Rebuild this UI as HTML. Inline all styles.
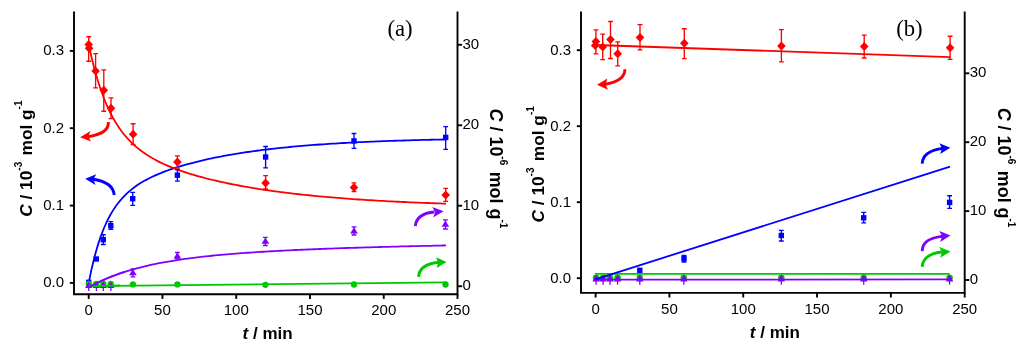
<!DOCTYPE html><html><head><meta charset="utf-8"><style>html,body{margin:0;padding:0;background:#fff;width:1024px;height:344px;overflow:hidden}svg{display:block;will-change:transform}</style></head><body><svg xmlns="http://www.w3.org/2000/svg" width="1024" height="344" viewBox="0 0 1024 344">
<style>.tk{font-family:"Liberation Sans",sans-serif;font-size:15px;fill:#000}.lab{font-family:"Liberation Sans",sans-serif;font-size:17.3px;font-weight:bold;fill:#000}.sup{font-size:10px}.rl{font-size:17.9px}.xl{font-family:"Liberation Sans",sans-serif;font-size:17px;font-weight:bold;fill:#000}.pl{font-family:"Liberation Serif",serif;font-size:22.7px;fill:#000}</style>
<rect width="1024" height="344" fill="#fff"/>
<path d="M74,12.4 V294.3 H457.5 V12.4" fill="none" stroke="#000" stroke-width="1.9" stroke-linecap="square"/>
<line x1="69.8" y1="282.9" x2="74" y2="282.9" stroke="#000" stroke-width="1.9"/>
<line x1="69.8" y1="205.6" x2="74" y2="205.6" stroke="#000" stroke-width="1.9"/>
<line x1="69.8" y1="128.2" x2="74" y2="128.2" stroke="#000" stroke-width="1.9"/>
<line x1="69.8" y1="50.9" x2="74" y2="50.9" stroke="#000" stroke-width="1.9"/>
<line x1="457.5" y1="286.2" x2="462.1" y2="286.2" stroke="#000" stroke-width="1.9"/>
<line x1="457.5" y1="205.7" x2="462.1" y2="205.7" stroke="#000" stroke-width="1.9"/>
<line x1="457.5" y1="125.3" x2="462.1" y2="125.3" stroke="#000" stroke-width="1.9"/>
<line x1="457.5" y1="44.8" x2="462.1" y2="44.8" stroke="#000" stroke-width="1.9"/>
<line x1="88.7" y1="294.3" x2="88.7" y2="298.90000000000003" stroke="#000" stroke-width="1.9"/>
<line x1="162.46" y1="294.3" x2="162.46" y2="298.90000000000003" stroke="#000" stroke-width="1.9"/>
<line x1="236.22000000000003" y1="294.3" x2="236.22000000000003" y2="298.90000000000003" stroke="#000" stroke-width="1.9"/>
<line x1="309.98" y1="294.3" x2="309.98" y2="298.90000000000003" stroke="#000" stroke-width="1.9"/>
<line x1="383.74" y1="294.3" x2="383.74" y2="298.90000000000003" stroke="#000" stroke-width="1.9"/>
<line x1="457.5" y1="294.3" x2="457.5" y2="298.90000000000003" stroke="#000" stroke-width="1.9"/>
<text x="64" y="287.29999999999995" text-anchor="end" class="tk">0.0</text>
<text x="64" y="210.0" text-anchor="end" class="tk">0.1</text>
<text x="64" y="132.6" text-anchor="end" class="tk">0.2</text>
<text x="64" y="55.3" text-anchor="end" class="tk">0.3</text>
<text x="462.5" y="290.09999999999997" class="tk">0</text>
<text x="462.5" y="209.6" class="tk">10</text>
<text x="462.5" y="129.2" class="tk">20</text>
<text x="462.5" y="48.699999999999996" class="tk">30</text>
<text x="88.7" y="315.3" text-anchor="middle" class="tk">0</text>
<text x="162.46" y="315.3" text-anchor="middle" class="tk">50</text>
<text x="236.22000000000003" y="315.3" text-anchor="middle" class="tk">100</text>
<text x="309.98" y="315.3" text-anchor="middle" class="tk">150</text>
<text x="383.74" y="315.3" text-anchor="middle" class="tk">200</text>
<text x="457.5" y="315.3" text-anchor="middle" class="tk">250</text>
<path d="M88.7,286.2 L446,282.3" stroke="#00c800" stroke-width="1.8" fill="none"/>
<path d="M88.70,287.34 L91.70,285.69 L94.71,284.12 L97.71,282.62 L100.71,281.19 L103.71,279.83 L106.72,278.53 L109.72,277.29 L112.72,276.10 L115.72,274.97 L118.73,273.89 L121.73,272.86 L124.73,271.87 L127.73,270.93 L130.74,270.03 L133.74,269.17 L136.74,268.35 L139.74,267.56 L142.75,266.80 L145.75,266.08 L148.75,265.38 L151.75,264.72 L154.76,264.08 L157.76,263.47 L160.76,262.89 L163.76,262.33 L166.77,261.79 L169.77,261.27 L172.77,260.77 L175.77,260.29 L178.78,259.83 L181.78,259.39 L184.78,258.96 L187.78,258.55 L190.79,258.15 L193.79,257.77 L196.79,257.41 L199.79,257.05 L202.80,256.71 L205.80,256.38 L208.80,256.06 L211.80,255.75 L214.81,255.45 L217.81,255.17 L220.81,254.89 L223.81,254.62 L226.82,254.36 L229.82,254.10 L232.82,253.86 L235.82,253.62 L238.83,253.39 L241.83,253.16 L244.83,252.95 L247.83,252.73 L250.84,252.53 L253.84,252.33 L256.84,252.13 L259.84,251.95 L262.85,251.76 L265.85,251.58 L268.85,251.41 L271.85,251.24 L274.86,251.07 L277.86,250.91 L280.86,250.75 L283.86,250.60 L286.87,250.45 L289.87,250.30 L292.87,250.15 L295.87,250.01 L298.88,249.88 L301.88,249.74 L304.88,249.61 L307.88,249.48 L310.89,249.35 L313.89,249.23 L316.89,249.11 L319.89,248.99 L322.90,248.87 L325.90,248.76 L328.90,248.65 L331.90,248.54 L334.91,248.43 L337.91,248.32 L340.91,248.22 L343.91,248.12 L346.92,248.02 L349.92,247.92 L352.92,247.82 L355.92,247.73 L358.93,247.63 L361.93,247.54 L364.93,247.45 L367.93,247.36 L370.94,247.28 L373.94,247.19 L376.94,247.10 L379.94,247.02 L382.95,246.94 L385.95,246.86 L388.95,246.78 L391.95,246.70 L394.96,246.62 L397.96,246.55 L400.96,246.47 L403.96,246.40 L406.97,246.32 L409.97,246.25 L412.97,246.18 L415.97,246.11 L418.98,246.04 L421.98,245.97 L424.98,245.91 L427.98,245.84 L430.99,245.78 L433.99,245.71 L436.99,245.65 L439.99,245.59 L443.00,245.52 L446.00,245.46" stroke="#8000ff" stroke-width="1.8" fill="none"/>
<path d="M88.70,282.84 L91.70,268.44 L94.71,256.15 L97.71,245.61 L100.71,236.54 L103.71,228.72 L106.72,221.93 L109.72,216.03 L112.72,210.86 L115.72,206.32 L118.73,202.30 L121.73,198.73 L124.73,195.54 L127.73,192.68 L130.74,190.09 L133.74,187.73 L136.74,185.58 L139.74,183.60 L142.75,181.77 L145.75,180.08 L148.75,178.50 L151.75,177.02 L154.76,175.62 L157.76,174.31 L160.76,173.07 L163.76,171.89 L166.77,170.76 L169.77,169.69 L172.77,168.66 L175.77,167.68 L178.78,166.73 L181.78,165.83 L184.78,164.95 L187.78,164.11 L190.79,163.30 L193.79,162.52 L196.79,161.76 L199.79,161.03 L202.80,160.32 L205.80,159.64 L208.80,158.97 L211.80,158.33 L214.81,157.71 L217.81,157.11 L220.81,156.52 L223.81,155.96 L226.82,155.41 L229.82,154.87 L232.82,154.36 L235.82,153.86 L238.83,153.37 L241.83,152.90 L244.83,152.44 L247.83,152.00 L250.84,151.57 L253.84,151.15 L256.84,150.75 L259.84,150.35 L262.85,149.97 L265.85,149.60 L268.85,149.24 L271.85,148.89 L274.86,148.55 L277.86,148.23 L280.86,147.91 L283.86,147.60 L286.87,147.30 L289.87,147.01 L292.87,146.72 L295.87,146.45 L298.88,146.18 L301.88,145.92 L304.88,145.67 L307.88,145.43 L310.89,145.19 L313.89,144.96 L316.89,144.74 L319.89,144.52 L322.90,144.31 L325.90,144.11 L328.90,143.91 L331.90,143.72 L334.91,143.53 L337.91,143.35 L340.91,143.17 L343.91,143.00 L346.92,142.84 L349.92,142.68 L352.92,142.52 L355.92,142.37 L358.93,142.22 L361.93,142.08 L364.93,141.94 L367.93,141.81 L370.94,141.68 L373.94,141.55 L376.94,141.43 L379.94,141.31 L382.95,141.20 L385.95,141.08 L388.95,140.97 L391.95,140.87 L394.96,140.77 L397.96,140.67 L400.96,140.57 L403.96,140.48 L406.97,140.38 L409.97,140.30 L412.97,140.21 L415.97,140.13 L418.98,140.05 L421.98,139.97 L424.98,139.89 L427.98,139.82 L430.99,139.75 L433.99,139.68 L436.99,139.61 L439.99,139.54 L443.00,139.48 L446.00,139.42" stroke="#0000ff" stroke-width="1.8" fill="none"/>
<path d="M88.70,44.56 L91.70,58.01 L94.71,69.86 L97.71,80.32 L100.71,89.58 L103.71,97.78 L106.72,105.07 L109.72,111.57 L112.72,117.37 L115.72,122.56 L118.73,127.23 L121.73,131.44 L124.73,135.25 L127.73,138.70 L130.74,141.85 L133.74,144.72 L136.74,147.36 L139.74,149.79 L142.75,152.03 L145.75,154.10 L148.75,156.03 L151.75,157.83 L154.76,159.52 L157.76,161.10 L160.76,162.60 L163.76,164.01 L166.77,165.34 L169.77,166.61 L172.77,167.82 L175.77,168.97 L178.78,170.07 L181.78,171.12 L184.78,172.13 L187.78,173.11 L190.79,174.04 L193.79,174.94 L196.79,175.81 L199.79,176.65 L202.80,177.47 L205.80,178.25 L208.80,179.01 L211.80,179.75 L214.81,180.47 L217.81,181.16 L220.81,181.84 L223.81,182.49 L226.82,183.13 L229.82,183.75 L232.82,184.35 L235.82,184.93 L238.83,185.50 L241.83,186.06 L244.83,186.60 L247.83,187.12 L250.84,187.63 L253.84,188.13 L256.84,188.62 L259.84,189.09 L262.85,189.55 L265.85,190.00 L268.85,190.44 L271.85,190.86 L274.86,191.28 L277.86,191.68 L280.86,192.08 L283.86,192.46 L286.87,192.84 L289.87,193.20 L292.87,193.56 L295.87,193.91 L298.88,194.25 L301.88,194.58 L304.88,194.90 L307.88,195.21 L310.89,195.52 L313.89,195.82 L316.89,196.11 L319.89,196.39 L322.90,196.67 L325.90,196.94 L328.90,197.20 L331.90,197.46 L334.91,197.71 L337.91,197.95 L340.91,198.19 L343.91,198.42 L346.92,198.65 L349.92,198.87 L352.92,199.08 L355.92,199.29 L358.93,199.50 L361.93,199.70 L364.93,199.89 L367.93,200.08 L370.94,200.26 L373.94,200.44 L376.94,200.62 L379.94,200.79 L382.95,200.96 L385.95,201.12 L388.95,201.28 L391.95,201.43 L394.96,201.58 L397.96,201.73 L400.96,201.88 L403.96,202.02 L406.97,202.15 L409.97,202.28 L412.97,202.41 L415.97,202.54 L418.98,202.66 L421.98,202.78 L424.98,202.90 L427.98,203.02 L430.99,203.13 L433.99,203.24 L436.99,203.34 L439.99,203.45 L443.00,203.55 L446.00,203.65" stroke="#ff0000" stroke-width="1.8" fill="none"/>
<rect x="86.00" y="279.60" width="5.40" height="5.40" fill="#0000ff"/>
<rect x="93.60" y="256.30" width="5.40" height="5.40" fill="#0000ff"/>
<path d="M103.30,234.70 V244.50 M100.90,234.70 H105.70 M100.90,244.50 H105.70" stroke="#0000ff" stroke-width="1.35" fill="none"/>
<rect x="100.60" y="237.00" width="5.40" height="5.40" fill="#0000ff"/>
<path d="M110.80,221.60 V229.20 M108.40,221.60 H113.20 M108.40,229.20 H113.20" stroke="#0000ff" stroke-width="1.35" fill="none"/>
<rect x="108.10" y="223.00" width="5.40" height="5.40" fill="#0000ff"/>
<path d="M132.70,192.30 V205.40 M130.30,192.30 H135.10 M130.30,205.40 H135.10" stroke="#0000ff" stroke-width="1.35" fill="none"/>
<rect x="130.00" y="196.00" width="5.40" height="5.40" fill="#0000ff"/>
<path d="M177.40,169.50 V181.10 M175.00,169.50 H179.80 M175.00,181.10 H179.80" stroke="#0000ff" stroke-width="1.35" fill="none"/>
<rect x="174.70" y="172.50" width="5.40" height="5.40" fill="#0000ff"/>
<path d="M265.60,146.50 V167.90 M263.20,146.50 H268.00 M263.20,167.90 H268.00" stroke="#0000ff" stroke-width="1.35" fill="none"/>
<rect x="262.90" y="154.30" width="5.40" height="5.40" fill="#0000ff"/>
<path d="M354.00,133.50 V148.40 M351.60,133.50 H356.40 M351.60,148.40 H356.40" stroke="#0000ff" stroke-width="1.35" fill="none"/>
<rect x="351.30" y="138.20" width="5.40" height="5.40" fill="#0000ff"/>
<path d="M445.70,126.60 V149.30 M443.30,126.60 H448.10 M443.30,149.30 H448.10" stroke="#0000ff" stroke-width="1.35" fill="none"/>
<rect x="443.00" y="134.70" width="5.40" height="5.40" fill="#0000ff"/>
<circle cx="88.70" cy="283.80" r="3.15" fill="#00c800"/>
<circle cx="96.20" cy="283.80" r="3.15" fill="#00c800"/>
<circle cx="103.30" cy="283.80" r="3.15" fill="#00c800"/>
<circle cx="110.70" cy="283.80" r="3.15" fill="#00c800"/>
<circle cx="132.90" cy="284.40" r="3.15" fill="#00c800"/>
<circle cx="177.40" cy="284.40" r="3.15" fill="#00c800"/>
<circle cx="265.40" cy="284.80" r="3.15" fill="#00c800"/>
<circle cx="354.00" cy="284.50" r="3.15" fill="#00c800"/>
<circle cx="445.50" cy="284.50" r="3.15" fill="#00c800"/>
<path d="M88.70,284 V291" stroke="#8000ff" stroke-width="1.3"/>
<path d="M88.70,281.68 L92.35,287.88 L85.05,287.88Z" fill="#8000ff"/>
<path d="M96.40,284 V291" stroke="#8000ff" stroke-width="1.3"/>
<path d="M96.40,281.68 L100.05,287.88 L92.75,287.88Z" fill="#8000ff"/>
<path d="M103.30,284 V291" stroke="#8000ff" stroke-width="1.3"/>
<path d="M103.30,281.68 L106.95,287.88 L99.65,287.88Z" fill="#8000ff"/>
<path d="M110.90,284 V291" stroke="#8000ff" stroke-width="1.3"/>
<path d="M110.90,281.68 L114.55,287.88 L107.25,287.88Z" fill="#8000ff"/>
<path d="M132.90,268.80 V276.80 M130.50,268.80 H135.30 M130.50,276.80 H135.30" stroke="#8000ff" stroke-width="1.35" fill="none"/>
<path d="M132.90,269.08 L136.70,275.28 L129.10,275.28Z" fill="#8000ff"/>
<path d="M177.40,252.50 V258.90 M175.00,252.50 H179.80 M175.00,258.90 H179.80" stroke="#8000ff" stroke-width="1.35" fill="none"/>
<path d="M177.40,252.28 L181.20,258.48 L173.60,258.48Z" fill="#8000ff"/>
<path d="M265.40,237.30 V245.50 M263.00,237.30 H267.80 M263.00,245.50 H267.80" stroke="#8000ff" stroke-width="1.35" fill="none"/>
<path d="M265.40,237.58 L269.20,243.78 L261.60,243.78Z" fill="#8000ff"/>
<path d="M354.00,226.80 V235.00 M351.60,226.80 H356.40 M351.60,235.00 H356.40" stroke="#8000ff" stroke-width="1.35" fill="none"/>
<path d="M354.00,227.18 L357.80,233.38 L350.20,233.38Z" fill="#8000ff"/>
<path d="M445.40,219.90 V229.00 M443.00,219.90 H447.80 M443.00,229.00 H447.80" stroke="#8000ff" stroke-width="1.35" fill="none"/>
<path d="M445.40,220.58 L449.20,226.78 L441.60,226.78Z" fill="#8000ff"/>
<path d="M88.7,286.4 L120,285.5" stroke="#00c800" stroke-width="1.8" fill="none"/>
<path d="M88.70,287.34 L89.95,286.65 L91.20,285.96 L92.46,285.29 L93.71,284.64 L94.96,283.99 L96.21,283.36 L97.46,282.74 L98.71,282.14 L99.97,281.54 L101.22,280.96 L102.47,280.39 L103.72,279.83 L104.97,279.28 L106.22,278.74 L107.48,278.21 L108.73,277.69 L109.98,277.18 L111.23,276.68 L112.48,276.19 L113.73,275.71 L114.99,275.24 L116.24,274.78 L117.49,274.33 L118.74,273.89 L119.99,273.45 L121.24,273.02 L122.50,272.60 L123.75,272.19 L125.00,271.79" stroke="#8000ff" stroke-width="1.8" fill="none"/>
<path d="M88.70,36.70 V61.20 M86.30,36.70 H91.10 M86.30,61.20 H91.10" stroke="#ff0000" stroke-width="1.35" fill="none"/>
<path d="M84.40,44.40 L88.70,39.90 L93.00,44.40 L88.70,48.90Z" fill="#ff0000"/>
<path d="M84.80,48.30 L89.10,43.80 L93.40,48.30 L89.10,52.80Z" fill="#ff0000"/>
<path d="M95.60,53.60 V87.80 M93.20,53.60 H98.00 M93.20,87.80 H98.00" stroke="#ff0000" stroke-width="1.35" fill="none"/>
<path d="M91.30,70.90 L95.60,66.40 L99.90,70.90 L95.60,75.40Z" fill="#ff0000"/>
<path d="M103.80,69.80 V111.20 M101.40,69.80 H106.20 M101.40,111.20 H106.20" stroke="#ff0000" stroke-width="1.35" fill="none"/>
<path d="M99.50,90.20 L103.80,85.70 L108.10,90.20 L103.80,94.70Z" fill="#ff0000"/>
<path d="M111.00,97.80 V118.60 M108.60,97.80 H113.40 M108.60,118.60 H113.40" stroke="#ff0000" stroke-width="1.35" fill="none"/>
<path d="M106.70,108.30 L111.00,103.80 L115.30,108.30 L111.00,112.80Z" fill="#ff0000"/>
<path d="M133.10,123.70 V144.50 M130.70,123.70 H135.50 M130.70,144.50 H135.50" stroke="#ff0000" stroke-width="1.35" fill="none"/>
<path d="M128.80,134.30 L133.10,129.80 L137.40,134.30 L133.10,138.80Z" fill="#ff0000"/>
<path d="M177.40,155.80 V168.00 M175.00,155.80 H179.80 M175.00,168.00 H179.80" stroke="#ff0000" stroke-width="1.35" fill="none"/>
<path d="M173.10,162.00 L177.40,157.50 L181.70,162.00 L177.40,166.50Z" fill="#ff0000"/>
<path d="M265.60,175.60 V188.80 M263.20,175.60 H268.00 M263.20,188.80 H268.00" stroke="#ff0000" stroke-width="1.35" fill="none"/>
<path d="M261.30,183.00 L265.60,178.50 L269.90,183.00 L265.60,187.50Z" fill="#ff0000"/>
<path d="M354.00,182.80 V191.60 M351.60,182.80 H356.40 M351.60,191.60 H356.40" stroke="#ff0000" stroke-width="1.35" fill="none"/>
<path d="M349.70,187.40 L354.00,182.90 L358.30,187.40 L354.00,191.90Z" fill="#ff0000"/>
<path d="M445.70,188.40 V201.40 M443.30,188.40 H448.10 M443.30,201.40 H448.10" stroke="#ff0000" stroke-width="1.35" fill="none"/>
<path d="M441.40,194.90 L445.70,190.40 L450.00,194.90 L445.70,199.40Z" fill="#ff0000"/>
<path d="M108.4,122 C108.8,129 103,134.5 87.5,136.8" stroke="#ff0000" stroke-width="2.9" fill="none"/>
<path d="M80.1,137.2 L90.6,131.1 L88.3,136.6 L91,141.6Z" fill="#ff0000"/>
<path d="M114.3,195 C113.3,186.5 106,181 92.5,179.3" stroke="#0000ff" stroke-width="2.9" fill="none"/>
<path d="M85.2,178.8 L96.3,174.3 L93.3,179.3 L95.5,185.1Z" fill="#0000ff"/>
<path d="M415.4,226.1 C416,218 423,213 434.5,212" stroke="#8000ff" stroke-width="2.9" fill="none"/>
<path d="M443.6,211.2 L432.2,207 L435.3,212.2 L433.1,217.4Z" fill="#8000ff"/>
<path d="M418.6,276.9 C419,269 426,263.5 439,262.2" stroke="#00c800" stroke-width="2.9" fill="none"/>
<path d="M446.6,261.9 L436,257.2 L438,262.4 L436.7,268Z" fill="#00c800"/>
<text x="387.4" y="35.6" class="pl">(a)</text>
<text transform="translate(32.3,216.8) rotate(-90)" class="lab"><tspan font-style="italic">C</tspan> / 10<tspan class="sup" dy="-10">-3</tspan><tspan dy="10" dx="1.5"> mol g</tspan><tspan class="sup" dy="-10">-1</tspan></text>
<text transform="translate(490,108.6) rotate(90)" class="lab rl"><tspan font-style="italic">C</tspan> / 10<tspan class="sup" dy="-10">-6</tspan><tspan dy="10" dx="1.5"> mol g</tspan><tspan class="sup" dy="-10">-1</tspan></text>
<text x="242.6" y="338.8" class="xl"><tspan font-style="italic">t</tspan> / min</text>
<path d="M581,12.4 V292.9 H964.7 V12.4" fill="none" stroke="#000" stroke-width="1.9" stroke-linecap="square"/>
<line x1="576.8" y1="278.2" x2="581" y2="278.2" stroke="#000" stroke-width="1.9"/>
<line x1="576.8" y1="202.2" x2="581" y2="202.2" stroke="#000" stroke-width="1.9"/>
<line x1="576.8" y1="126.2" x2="581" y2="126.2" stroke="#000" stroke-width="1.9"/>
<line x1="576.8" y1="50.2" x2="581" y2="50.2" stroke="#000" stroke-width="1.9"/>
<line x1="964.7" y1="280" x2="969.3000000000001" y2="280" stroke="#000" stroke-width="1.9"/>
<line x1="964.7" y1="211.1" x2="969.3000000000001" y2="211.1" stroke="#000" stroke-width="1.9"/>
<line x1="964.7" y1="142.2" x2="969.3000000000001" y2="142.2" stroke="#000" stroke-width="1.9"/>
<line x1="964.7" y1="73.3" x2="969.3000000000001" y2="73.3" stroke="#000" stroke-width="1.9"/>
<line x1="595.6" y1="292.9" x2="595.6" y2="297.5" stroke="#000" stroke-width="1.9"/>
<line x1="669.4200000000001" y1="292.9" x2="669.4200000000001" y2="297.5" stroke="#000" stroke-width="1.9"/>
<line x1="743.24" y1="292.9" x2="743.24" y2="297.5" stroke="#000" stroke-width="1.9"/>
<line x1="817.0600000000001" y1="292.9" x2="817.0600000000001" y2="297.5" stroke="#000" stroke-width="1.9"/>
<line x1="890.8800000000001" y1="292.9" x2="890.8800000000001" y2="297.5" stroke="#000" stroke-width="1.9"/>
<line x1="964.7" y1="292.9" x2="964.7" y2="297.5" stroke="#000" stroke-width="1.9"/>
<text x="571" y="282.59999999999997" text-anchor="end" class="tk">0.0</text>
<text x="571" y="206.6" text-anchor="end" class="tk">0.1</text>
<text x="571" y="130.6" text-anchor="end" class="tk">0.2</text>
<text x="571" y="54.6" text-anchor="end" class="tk">0.3</text>
<text x="969.7" y="283.9" class="tk">0</text>
<text x="969.7" y="215.0" class="tk">10</text>
<text x="969.7" y="146.1" class="tk">20</text>
<text x="969.7" y="77.2" class="tk">30</text>
<text x="595.6" y="313.9" text-anchor="middle" class="tk">0</text>
<text x="669.4200000000001" y="313.9" text-anchor="middle" class="tk">50</text>
<text x="743.24" y="313.9" text-anchor="middle" class="tk">100</text>
<text x="817.0600000000001" y="313.9" text-anchor="middle" class="tk">150</text>
<text x="890.8800000000001" y="313.9" text-anchor="middle" class="tk">200</text>
<text x="964.7" y="313.9" text-anchor="middle" class="tk">250</text>
<rect x="637.10" y="267.60" width="5.40" height="5.40" fill="#0000ff"/>
<path d="M684.00,255.50 V262.00 M681.60,255.50 H686.40 M681.60,262.00 H686.40" stroke="#0000ff" stroke-width="1.35" fill="none"/>
<rect x="681.30" y="256.00" width="5.40" height="5.40" fill="#0000ff"/>
<path d="M781.30,230.30 V241.00 M778.90,230.30 H783.70 M778.90,241.00 H783.70" stroke="#0000ff" stroke-width="1.35" fill="none"/>
<rect x="778.60" y="232.80" width="5.40" height="5.40" fill="#0000ff"/>
<path d="M863.70,212.40 V222.80 M861.30,212.40 H866.10 M861.30,222.80 H866.10" stroke="#0000ff" stroke-width="1.35" fill="none"/>
<rect x="861.00" y="215.10" width="5.40" height="5.40" fill="#0000ff"/>
<path d="M949.60,195.70 V208.40 M947.20,195.70 H952.00 M947.20,208.40 H952.00" stroke="#0000ff" stroke-width="1.35" fill="none"/>
<rect x="946.90" y="199.70" width="5.40" height="5.40" fill="#0000ff"/>
<circle cx="596.10" cy="277.70" r="3.3" fill="#00c800"/>
<circle cx="603.10" cy="277.70" r="3.3" fill="#00c800"/>
<circle cx="610.00" cy="277.70" r="3.3" fill="#00c800"/>
<circle cx="617.60" cy="277.70" r="3.3" fill="#00c800"/>
<circle cx="639.80" cy="277.70" r="3.3" fill="#00c800"/>
<circle cx="683.80" cy="277.70" r="3.3" fill="#00c800"/>
<circle cx="781.30" cy="277.70" r="3.3" fill="#00c800"/>
<circle cx="863.70" cy="277.70" r="3.3" fill="#00c800"/>
<circle cx="949.60" cy="277.70" r="3.3" fill="#00c800"/>
<path d="M596.10,276 V284.7" stroke="#8000ff" stroke-width="1.3"/>
<path d="M596.10,274.40 L599.80,281.40 L592.40,281.40Z" fill="#8000ff"/>
<path d="M603.10,276 V284.7" stroke="#8000ff" stroke-width="1.3"/>
<path d="M603.10,274.40 L606.80,281.40 L599.40,281.40Z" fill="#8000ff"/>
<path d="M610.00,276 V284.7" stroke="#8000ff" stroke-width="1.3"/>
<path d="M610.00,274.40 L613.70,281.40 L606.30,281.40Z" fill="#8000ff"/>
<path d="M617.60,276 V284.7" stroke="#8000ff" stroke-width="1.3"/>
<path d="M617.60,274.40 L621.30,281.40 L613.90,281.40Z" fill="#8000ff"/>
<path d="M639.80,276 V284.7" stroke="#8000ff" stroke-width="1.3"/>
<path d="M639.80,274.40 L643.50,281.40 L636.10,281.40Z" fill="#8000ff"/>
<path d="M683.80,276 V284.7" stroke="#8000ff" stroke-width="1.3"/>
<path d="M683.80,274.40 L687.50,281.40 L680.10,281.40Z" fill="#8000ff"/>
<path d="M781.30,276 V284.7" stroke="#8000ff" stroke-width="1.3"/>
<path d="M781.30,274.40 L785.00,281.40 L777.60,281.40Z" fill="#8000ff"/>
<path d="M863.70,276 V284.7" stroke="#8000ff" stroke-width="1.3"/>
<path d="M863.70,274.40 L867.40,281.40 L860.00,281.40Z" fill="#8000ff"/>
<path d="M949.60,276 V284.7" stroke="#8000ff" stroke-width="1.3"/>
<path d="M949.60,274.40 L953.30,281.40 L945.90,281.40Z" fill="#8000ff"/>
<path d="M594.9,273.9 L949.6,273.9" stroke="#00c800" stroke-width="1.8" fill="none"/>
<path d="M594.6,279.7 L949.6,279.4" stroke="#8000ff" stroke-width="1.8" fill="none"/>
<path d="M594.6,279.6 L950.1,166.6" stroke="#0000ff" stroke-width="1.8" fill="none"/>
<path d="M595.6,45 L950.1,57.1" stroke="#ff0000" stroke-width="1.8" fill="none"/>
<path d="M595.90,29.90 V53.90 M593.50,29.90 H598.30 M593.50,53.90 H598.30" stroke="#ff0000" stroke-width="1.35" fill="none"/>
<path d="M591.60,41.50 L595.90,37.00 L600.20,41.50 L595.90,46.00Z" fill="#ff0000"/>
<path d="M590.90,45.50 L595.20,41.00 L599.50,45.50 L595.20,50.00Z" fill="#ff0000"/>
<path d="M602.70,34.10 V59.60 M600.30,34.10 H605.10 M600.30,59.60 H605.10" stroke="#ff0000" stroke-width="1.35" fill="none"/>
<path d="M598.40,46.90 L602.70,42.40 L607.00,46.90 L602.70,51.40Z" fill="#ff0000"/>
<path d="M610.50,21.50 V58.50 M608.10,21.50 H612.90 M608.10,58.50 H612.90" stroke="#ff0000" stroke-width="1.35" fill="none"/>
<path d="M606.20,39.60 L610.50,35.10 L614.80,39.60 L610.50,44.10Z" fill="#ff0000"/>
<path d="M617.70,41.80 V65.80 M615.30,41.80 H620.10 M615.30,65.80 H620.10" stroke="#ff0000" stroke-width="1.35" fill="none"/>
<path d="M613.40,53.70 L617.70,49.20 L622.00,53.70 L617.70,58.20Z" fill="#ff0000"/>
<path d="M640.00,24.60 V49.90 M637.60,24.60 H642.40 M637.60,49.90 H642.40" stroke="#ff0000" stroke-width="1.35" fill="none"/>
<path d="M635.70,37.50 L640.00,33.00 L644.30,37.50 L640.00,42.00Z" fill="#ff0000"/>
<path d="M684.30,28.70 V58.60 M681.90,28.70 H686.70 M681.90,58.60 H686.70" stroke="#ff0000" stroke-width="1.35" fill="none"/>
<path d="M680.00,43.30 L684.30,38.80 L688.60,43.30 L684.30,47.80Z" fill="#ff0000"/>
<path d="M781.40,29.60 V61.90 M779.00,29.60 H783.80 M779.00,61.90 H783.80" stroke="#ff0000" stroke-width="1.35" fill="none"/>
<path d="M777.10,46.00 L781.40,41.50 L785.70,46.00 L781.40,50.50Z" fill="#ff0000"/>
<path d="M864.20,35.10 V58.00 M861.80,35.10 H866.60 M861.80,58.00 H866.60" stroke="#ff0000" stroke-width="1.35" fill="none"/>
<path d="M859.90,46.60 L864.20,42.10 L868.50,46.60 L864.20,51.10Z" fill="#ff0000"/>
<path d="M950.10,36.20 V59.30 M947.70,36.20 H952.50 M947.70,59.30 H952.50" stroke="#ff0000" stroke-width="1.35" fill="none"/>
<path d="M945.80,47.70 L950.10,43.20 L954.40,47.70 L950.10,52.20Z" fill="#ff0000"/>
<path d="M624.9,69.3 C625,77 619,82 604.5,84.5" stroke="#ff0000" stroke-width="2.9" fill="none"/>
<path d="M597,84.7 L607.4,78.6 L605.5,84.4 L608,89.7Z" fill="#ff0000"/>
<path d="M922.2,163.6 C922.5,155 929,150.2 943,148.4" stroke="#0000ff" stroke-width="2.9" fill="none"/>
<path d="M950.3,147.8 L939.4,143.2 L942,148.4 L940.2,154.1Z" fill="#0000ff"/>
<path d="M922.2,251.1 C922.5,242 929,238 943,236.1" stroke="#8000ff" stroke-width="2.9" fill="none"/>
<path d="M950.5,235.6 L939.4,231 L942,236.1 L940.2,242Z" fill="#8000ff"/>
<path d="M922.2,266.9 C922.5,258.3 929,253.3 943,251.7" stroke="#00c800" stroke-width="2.9" fill="none"/>
<path d="M950.6,251.4 L939.3,247 L942,251.7 L940.2,257.8Z" fill="#00c800"/>
<text x="896.2" y="36.2" class="pl">(b)</text>
<text transform="translate(543.6,222.5) rotate(-90)" class="lab"><tspan font-style="italic">C</tspan> / 10<tspan class="sup" dy="-10">-3</tspan><tspan dy="10" dx="1.5"> mol g</tspan><tspan class="sup" dy="-10">-1</tspan></text>
<text transform="translate(998,107.7) rotate(90)" class="lab rl"><tspan font-style="italic">C</tspan> / 10<tspan class="sup" dy="-10">-6</tspan><tspan dy="10" dx="1.5"> mol g</tspan><tspan class="sup" dy="-10">-1</tspan></text>
<text x="749.8" y="338.1" class="xl"><tspan font-style="italic">t</tspan> / min</text>
</svg></body></html>
